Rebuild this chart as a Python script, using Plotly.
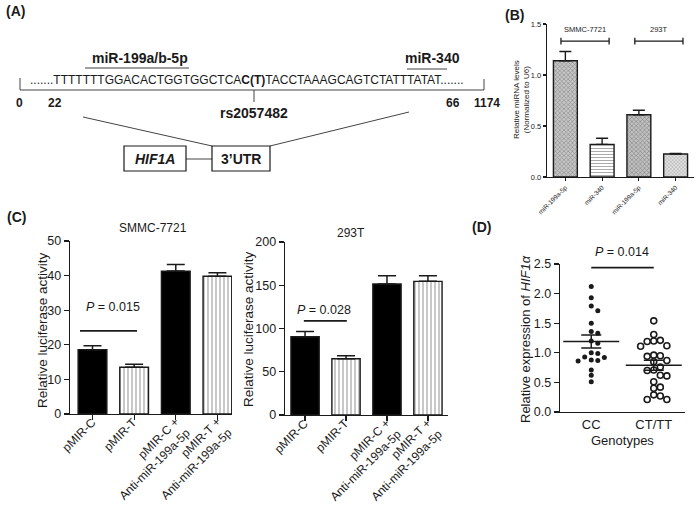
import plotly.graph_objects as go

W, H = 700, 505
FONT = "Liberation Sans, Arial, Helvetica, sans-serif"
INK = "#1a1a1a"

# ---------------- data ----------------
# Panel B
b_labels = ["miR-199a-5p", "miR-340", "miR-199a-5p", "miR-340"]
b_values = [1.14, 0.32, 0.61, 0.225]
b_errors = [0.09, 0.06, 0.045, 0.006]
b_groups = ["SMMC-7721", "293T"]

# Panel C
c_labels = ["pMIR-C", "pMIR-T", "pMIR-C +<br>Anti-miR-199a-5p", "pMIR-T +<br>Anti-miR-199a-5p"]
c_smmc_values = [18.6, 13.5, 41.3, 39.8]
c_smmc_errors = [1.1, 0.9, 1.9, 1.0]
c_293t_values = [90.5, 65.0, 151.5, 154.5]
c_293t_errors = [6.0, 3.5, 9.5, 6.5]
c_smmc_p = "0.015"
c_293t_p = "0.028"

# Panel D
d_groups = ["CC", "CT/TT"]
d_cc = [2.12, 1.93, 1.79, 1.71, 1.50, 1.33, 1.36, 1.20, 1.16, 1.00, 0.99,
        0.93, 0.88, 0.87, 0.92, 0.86, 0.71, 0.62, 0.51]
d_ct = [1.54, 1.31, 1.21, 1.20, 1.19, 1.11, 1.12, 0.96, 0.94, 0.95, 0.87, 0.85,
        0.76, 0.71, 0.70, 0.62, 0.61, 0.51, 0.42, 0.40, 0.29, 0.27, 0.21, 0.21]
d_means = [1.19, 0.79]
d_sems = [0.11, 0.085]
d_p = "0.014"

# Panel A
seq_head = "TTTTTTT"
seq_left = "GGACACTGGTGGCTCA"
seq_snp = "C(T)"
seq_right = "TACCTAAAGCAGTCTATTTATAT"
a_positions = ["0", "22", "66", "1174"]

# Arial / Liberation Sans advance widths (per 1000 em) for label layout
CW = {"p": 556, "M": 833, "I": 278, "R": 722, "-": 333, "C": 722, "T": 611, " ": 278,
      "+": 584, "A": 667, "n": 556, "t": 278, "i": 222, "m": 833, "1": 556, "9": 556,
      "a": 556, "5": 556}


def text_width(s, fs):
    return sum(CW.get(ch, 556) for ch in s) / 1000.0 * fs


def px(x):
    return x / W


def py(y):
    return 1 - y / H


def swarm(values, step, px_per_unit, diam):
    order = sorted(range(len(values)), key=lambda i: -values[i])
    offs = [0.0] * len(values)
    placed = []
    for i in order:
        k = 0
        chosen = None
        while chosen is None:
            cands = [0] if k == 0 else [k, -k]
            for c in cands:
                dx = c * step
                clash = any(abs(values[i] - values[j]) * px_per_unit < diam and abs(dx - offs[j]) < step * 0.5
                            for j in placed)
                if not clash:
                    chosen = dx
                    break
            k += 1
        offs[i] = chosen
        placed.append(i)
    return offs


fig = go.Figure()

# ---------- Panel B bars ----------
fig.add_trace(go.Bar(
    x=list(range(len(b_labels))), y=b_values, width=0.65,
    xaxis="x", yaxis="y",
    marker=dict(
        color=["#c6c6c6", "#ffffff", "#c0c0c0", "#e4e4e4"],
        line=dict(color=INK, width=1.4),
        pattern=dict(fillmode="overlay", shape=["x", "-", "x", "x"],
                     fgcolor=["#6a6a6a", "#8a8a8a", "#6a6a6a", "#a0a0a0"],
                     size=[3, 3, 3, 2.5], solidity=[0.35, 0.3, 0.35, 0.3]),
    ),
    error_y=dict(type="data", array=b_errors, arrayminus=[0] * 4, symmetric=False,
                 color=INK, thickness=1.4, width=6),
    showlegend=False, hoverinfo="skip",
))

# ---------- Panel C bars ----------
c_colors = ["black", "white", "black", "white"]
c_shapes = ["", "|", "", "|"]
for vals, errs, xa, ya in [(c_smmc_values, c_smmc_errors, "x2", "y2"),
                           (c_293t_values, c_293t_errors, "x3", "y3")]:
    fig.add_trace(go.Bar(
        x=list(range(len(c_labels))), y=vals, width=0.69,
        xaxis=xa, yaxis=ya,
        marker=dict(color=c_colors, line=dict(color=INK, width=1.4),
                    pattern=dict(fillmode="overlay", shape=c_shapes, fgcolor="#8c8c8c",
                                 size=4, solidity=0.3)),
        error_y=dict(type="data", array=errs, arrayminus=[0] * 4, symmetric=False,
                     color=INK, thickness=1.5, width=9),
        showlegend=False, hoverinfo="skip",
    ))

# ---------- Panel D scatter ----------
d_ppu = 148 / 2.5
cc_off = swarm(d_cc, 0.105, d_ppu, 5.0)
ct_off = swarm(d_ct, 0.105, d_ppu, 6.0)
fig.add_trace(go.Scatter(
    x=[0 + o for o in cc_off], y=d_cc, mode="markers", xaxis="x4", yaxis="y4",
    marker=dict(color=INK, size=5), showlegend=False, hoverinfo="skip", cliponaxis=False))
fig.add_trace(go.Scatter(
    x=[1 + o for o in ct_off], y=d_ct, mode="markers", xaxis="x4", yaxis="y4",
    marker=dict(color="white", size=6, line=dict(color=INK, width=1.6)),
    showlegend=False, hoverinfo="skip", cliponaxis=False))
fig.add_trace(go.Scatter(
    x=[0, 1], y=d_means, mode="markers", xaxis="x4", yaxis="y4",
    marker=dict(symbol="line-ew", size=40, line=dict(color=INK, width=1.5)),
    error_y=dict(type="data", array=d_sems, color=INK, thickness=1.5, width=10),
    showlegend=False, hoverinfo="skip", cliponaxis=False))


# ---------- axes ----------
def yax(dom, rng, dtick, fmt, fs, ticklen=5):
    return dict(domain=dom, range=rng, dtick=dtick, tickformat=fmt, showline=True,
                linecolor=INK, linewidth=1.3, ticks="outside", ticklen=ticklen, tickwidth=1.2,
                tickcolor=INK, showgrid=False, zeroline=False, automargin=False,
                tickfont=dict(family=FONT, size=fs, color=INK), fixedrange=True)


def xax(dom, rng, vals, text, fs, angle, ticks="outside", ticklen=4):
    return dict(domain=dom, range=rng, tickvals=vals, ticktext=text, tickangle=angle,
                showline=True, linecolor=INK, linewidth=1.3, ticks=ticks, ticklen=ticklen,
                tickwidth=1.2, tickcolor=INK, showgrid=False, zeroline=False, automargin=False,
                tickfont=dict(family=FONT, size=fs, color=INK), fixedrange=True)


blank4 = [""] * len(c_labels)
fig.update_layout(
    template="none",
    width=W, height=H, margin=dict(l=0, r=0, t=0, b=0, pad=0), autosize=False,
    paper_bgcolor="white", plot_bgcolor="rgba(0,0,0,0)",
    barmode="overlay", font=dict(family=FONT, color=INK), showlegend=False,
    xaxis=dict(anchor="y", **xax([px(547), px(694)], [-0.5, 3.5], list(range(4)), b_labels, 6.5, -45, ticklen=3)),
    yaxis=dict(anchor="x", **yax([py(177), py(24)], [0, 1.5], 0.5, ".1f", 7.5, ticklen=3)),
    xaxis2=dict(anchor="y2", **xax([px(70), px(232)], [-0.54, 3.35], list(range(4)), blank4, 12, 0, ticklen=5)),
    yaxis2=dict(anchor="x2", **yax([py(414), py(241)], [0, 50], 10, "d", 12.5)),
    xaxis3=dict(anchor="y3", **xax([px(285), px(448)], [-0.49, 3.49], list(range(4)), blank4, 12, 0, ticklen=5)),
    yaxis3=dict(anchor="x3", **yax([py(415), py(242)], [0, 200], 50, "d", 12.5)),
    xaxis4=dict(anchor="y4", **xax([px(560), px(685)], [-0.5, 1.5], [0, 1], d_groups, 13, 0, ticks="")),
    yaxis4=dict(anchor="x4", **yax([py(412), py(264)], [0, 2.5], 0.5, ".1f", 12.5)),
)

# ---------- shapes ----------
shapes = []


def pline(x0, y0, x1, y1, color=INK, width=1.0):
    shapes.append(dict(type="line", xref="paper", yref="paper", x0=px(x0), y0=py(y0),
                       x1=px(x1), y1=py(y1), line=dict(color=color, width=width)))


def prect(x0, y0, x1, y1):
    shapes.append(dict(type="rect", xref="paper", yref="paper", x0=px(x0), y0=py(y0),
                       x1=px(x1), y1=py(y1), line=dict(color=INK, width=1.2), fillcolor="white"))


def dline(xr, yr, x0, y0, x1, y1, width=1.5):
    shapes.append(dict(type="line", xref=xr, yref=yr, x0=x0, y0=y0, x1=x1, y1=y1,
                       line=dict(color=INK, width=width)))


# Panel A drawing
pline(85, 68, 189, 68, "#808080", 1.5)
pline(407, 69, 447, 69, "#808080", 1.5)
pline(20, 78, 20, 90, "#444", 1)
pline(20, 90, 484, 90, "#444", 1)
pline(484, 79, 484, 90, "#444", 1)
pline(254, 90, 254, 102, "#444", 1)
pline(83, 117, 212, 146, "#444", 1)
pline(409, 112, 270, 146, "#444", 1)
pline(186, 159, 212, 159, "#444", 1)
prect(124, 146, 186, 171)
prect(212, 146, 270, 171)

# Panel B brackets
for x0, x1 in [(-0.12, 1.19), (1.89, 3.2)]:
    dline("x", "y", x0, 1.333, x1, 1.333, 1.3)
    dline("x", "y", x0, 1.30, x0, 1.365, 1.3)
    dline("x", "y", x1, 1.30, x1, 1.365, 1.3)

# Panel C significance lines
dline("x2", "y2", -0.30, 24, 1.07, 24, 1.8)
dline("x3", "y3", -0.03, 108.7, 1.02, 108.7, 1.8)
# Panel D significance line
dline("x4", "y4", 0, 2.44, 1, 2.44, 1.8)

fig.update_layout(shapes=shapes)

# ---------- annotations ----------
anns = []


def txt(x, y, text, size, xanchor="center", yanchor="middle", angle=0, color=INK):
    anns.append(dict(x=px(x), y=py(y), xref="paper", yref="paper", text=text, showarrow=False,
                     xanchor=xanchor, yanchor=yanchor, textangle=angle,
                     font=dict(family=FONT, size=size, color=color)))


# rotated (-45 deg) category labels for panel C, right end of first line at the tick
C_FS = 12
for xa, ya in [("x2", "y2"), ("x3", "y3")]:
    for i, lab in enumerate(c_labels):
        lines = lab.split("<br>")
        n = len(lines)
        w = max(text_width(s, C_FS) for s in lines)
        lh = 1.3 * C_FS
        cx = 0.7071 * (-w / 2 + (n - 1) * lh / 2)
        cy = 0.7071 * (w / 2 + (n - 1) * lh / 2)
        anns.append(dict(x=i, y=0, xref=xa, yref=ya, text=lab, showarrow=False,
                         xanchor="center", yanchor="middle", textangle=-45, align="right",
                         xshift=1 + cx, yshift=-(6 + cy), borderpad=0,
                         font=dict(family=FONT, size=C_FS, color=INK)))

# panel letters
txt(4, 11, "<b>(A)</b>", 14, xanchor="left")
txt(503, 15, "<b>(B)</b>", 14, xanchor="left")
txt(5, 217, "<b>(C)</b>", 14, xanchor="left")
txt(470, 227, "<b>(D)</b>", 14, xanchor="left")

# Panel A text
txt(140, 58, "<b>miR-199a/b-5p</b>", 14)
txt(432, 58, "<b>miR-340</b>", 14)
txt(28, 80, "......." + seq_head + seq_left + "<b>" + seq_snp + "</b>" + seq_right + ".......", 12,
    xanchor="left")
for lab, xx in zip(a_positions, [19, 55, 453, 487]):
    txt(xx, 103, "<b>" + lab + "</b>", 12)
txt(254, 113, "<b>rs2057482</b>", 14)
txt(155, 159, "<b><i>HIF1A</i></b>", 14)
txt(241, 159, "<b>3’UTR</b>", 14)

# Panel B text
txt(585, 29, b_groups[0], 7.5)
txt(659, 29, b_groups[1], 7.5)
txt(522, 100, "Relative miRNA levels<br>(Normalized to U6)", 8, angle=-90)

# Panel C text
txt(153, 228, "SMMC-7721", 12)
txt(351, 233, "293T", 12)
txt(42, 330, "Relative luciferase activity", 13.5, angle=-90)
txt(248, 329, "Relative luciferase activity", 13.5, angle=-90)
txt(113, 307, "<i>P</i> = " + c_smmc_p, 12.5)
txt(324, 310, "<i>P</i> = " + c_293t_p, 12.5)

# Panel D text
txt(622, 252, "<i>P</i> = " + d_p, 12.5)
txt(622, 440, "Genotypes", 13)
txt(525, 339, "Relative expression of <i>HIF1α</i>", 13, angle=-90)

fig.update_layout(annotations=anns)

fig.write_html("out.html", config={"displayModeBar": False, "staticPlot": True},
               post_script="document.body.style.margin='0';document.body.style.overflow='hidden';")
